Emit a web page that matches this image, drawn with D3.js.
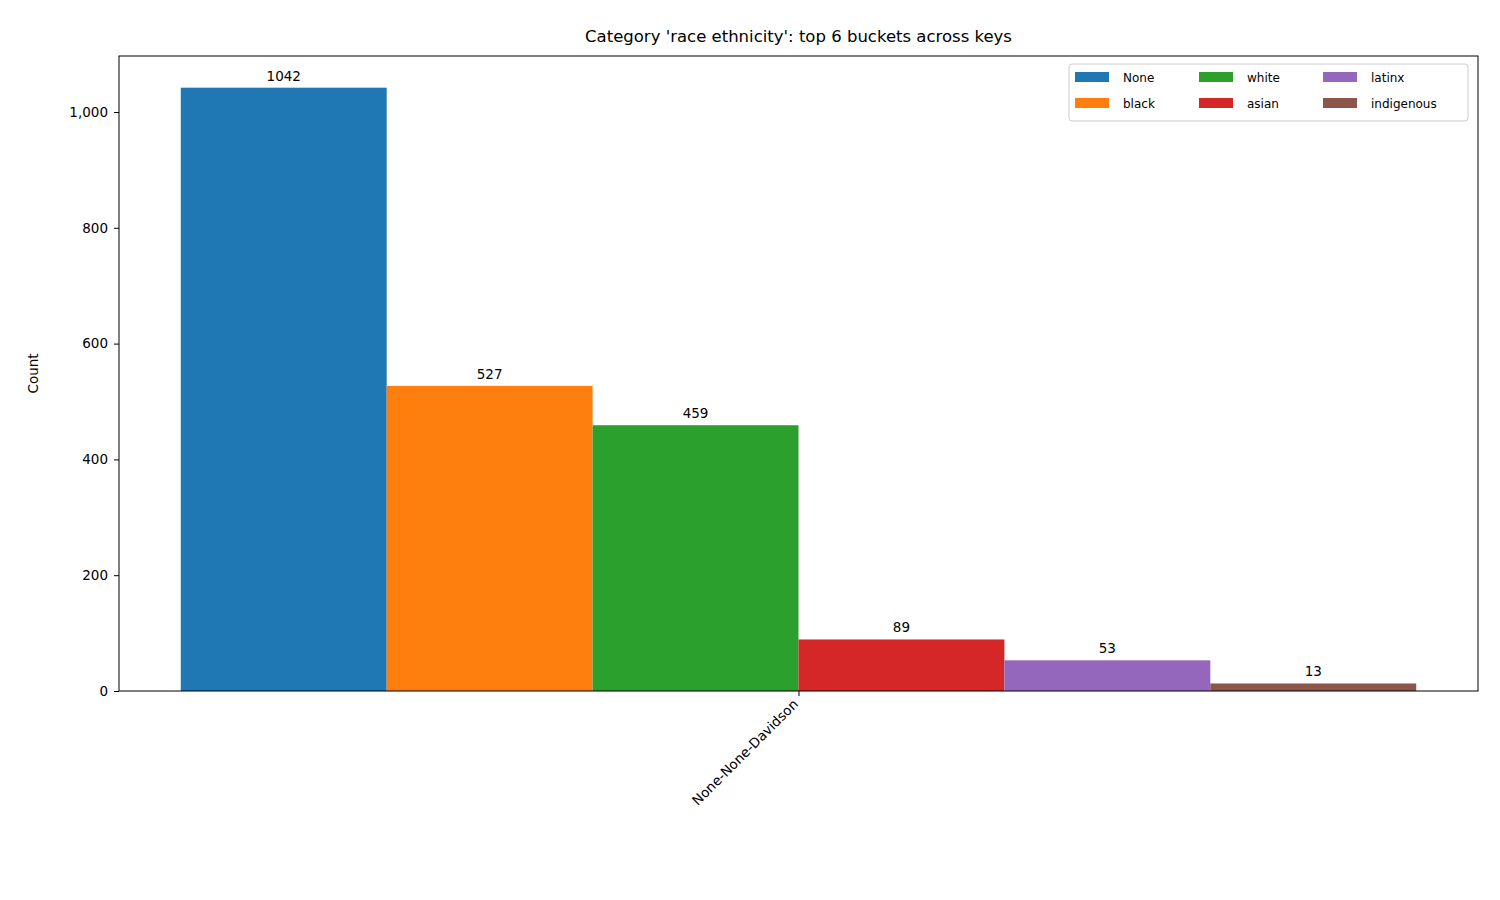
<!DOCTYPE html>
<html><head><meta charset="utf-8">
<script src="https://cdn.jsdelivr.net/npm/d3@7"></script>
<style>body{margin:0;background:#fff}text{font-family:"DejaVu Sans",sans-serif}</style>
</head><body>
<svg id="c" width="1500" height="900"></svg>
<script>
// Daten
const buckets = ["None", "black", "white", "asian", "latinx", "indigenous"];
const counts = [1042, 527, 459, 89, 53, 13];
const colors = ["#1f77b4", "#ff7f0e", "#2ca02c", "#d62728", "#9467bd", "#8c564b"];
const keyLabel = "None-None-Davidson";
const yTicks = [0, 200, 400, 600, 800, 1000];

const margin = { top: 56, right: 22, bottom: 209, left: 119 };
const width = 1500, height = 900;
const svg = d3.select("#c");

const barW = 0.8 / buckets.length;
const x = d3.scaleLinear().domain([-0.44, 0.44]).range([margin.left, width - margin.right]);
const y = d3.scaleLinear().domain([0, 1042 * 1.0525]).range([height - margin.bottom, margin.top]);

// Balken
buckets.forEach((b, i) => {
    const x0 = (i - buckets.length / 2) * barW;
    svg.append("rect")
        .attr("x", x(x0)).attr("width", x(x0 + barW) - x(x0))
        .attr("y", y(counts[i])).attr("height", y(0) - y(counts[i]))
        .attr("fill", colors[i]);
    svg.append("text")
        .attr("x", x(x0 + barW / 2)).attr("y", y(counts[i]) - 7)
        .attr("text-anchor", "middle").attr("font-size", 13.5)
        .text(counts[i]);
});

// Achsen
const yAxis = svg.append("g").attr("transform", `translate(${margin.left},0)`)
    .call(d3.axisLeft(y).tickValues(yTicks).tickSize(5).tickPadding(6));
yAxis.selectAll("text").attr("font-size", 13.5).attr("font-family", "DejaVu Sans");
yAxis.select(".domain").remove();

const xAxis = svg.append("g").attr("transform", `translate(0,${height - margin.bottom})`)
    .call(d3.axisBottom(x).tickValues([0]).tickFormat(() => keyLabel).tickSize(5));
xAxis.select(".domain").remove();
xAxis.selectAll("text").attr("font-size", 13.5).attr("font-family", "DejaVu Sans")
    .attr("text-anchor", "end").attr("dy", null)
    .attr("transform", "translate(0,14) rotate(-45)").attr("y", 0).attr("x", 0);

svg.append("rect").attr("x", margin.left).attr("y", margin.top)
    .attr("width", width - margin.left - margin.right)
    .attr("height", height - margin.top - margin.bottom)
    .attr("fill", "none").attr("stroke", "#000");

svg.append("text").attr("x", (margin.left + width - margin.right) / 2).attr("y", 42)
    .attr("text-anchor", "middle").attr("font-size", 16.5)
    .text("Category 'race ethnicity': top 6 buckets across keys");
svg.append("text").attr("transform", `translate(38,${(margin.top + height - margin.bottom) / 2}) rotate(-90)`)
    .attr("text-anchor", "middle").attr("font-size", 13.5).text("Count");

// Legende
const lg = svg.append("g").attr("transform", "translate(1069,64)");
lg.append("rect").attr("width", 399).attr("height", 57).attr("rx", 3)
    .attr("fill", "#fff").attr("stroke", "#ccc");
buckets.forEach((b, i) => {
    const col = Math.floor(i / 2), row = i % 2;
    const g = lg.append("g").attr("transform", `translate(${6 + col * 124},${8 + row * 26})`);
    g.append("rect").attr("width", 34).attr("height", 10).attr("fill", colors[i]);
    g.append("text").attr("x", 48).attr("y", 10).attr("font-size", 12).text(b);
});
</script>
</body></html>
